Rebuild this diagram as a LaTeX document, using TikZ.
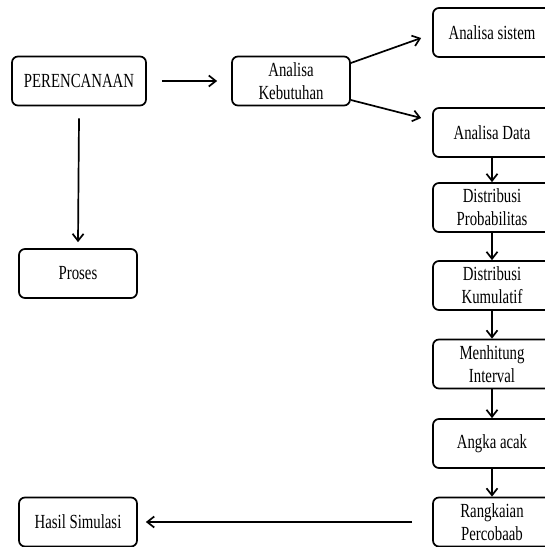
\documentclass[tikz,border=0pt]{standalone}
\usepackage{fontspec}
\setmainfont[FakeStretch=0.74]{Liberation Serif}
\usepackage{tikz}
\usetikzlibrary{shapes}
\usetikzlibrary{positioning,arrows.meta}

\begin{document}
\begin{tikzpicture}[x=1pt,y=-1pt,font=\fontsize{20}{23.3}\selectfont,
    box/.style={draw,line width=1.7pt,rounded corners=6pt,align=center,
      minimum height=49pt,inner sep=0pt},
    kolom/.style={box,minimum width=118pt},
    arr/.style={line width=1.7pt,-{Straight Barb[length=7pt,width=11pt]}}]
        \useasboundingbox (0,0) rectangle (545,547);
        \node[box,minimum width=134pt] (plan) at (79,81) {PERENCANAAN};
        \node[box,minimum width=118pt] (keb) at (291,81) {Analisa\\Kebutuhan};
        \node[box,minimum width=118pt] (proses) at (78,273.5) {Proses};
        \node[box,minimum width=118pt] (hasil) at (78,522) {Hasil Simulasi};
        \node[kolom] (sistem) at (492,32.5) {Analisa sistem};
        \node[kolom] (data) at (492,132.5) {Analisa Data};
        \node[kolom] (prob) at (492,207.5) {Distribusi\\Probabilitas};
        \node[kolom] (kum) at (492,285.5) {Distribusi\\Kumulatif};
        \node[kolom] (interval) at (492,364) {Menhitung\\Interval};
        \node[kolom] (acak) at (492,443.5) {Angka acak};
        \node[kolom] (rangkaian) at (492,522) {Rangkaian\\Percobaab};
        % panah
        \draw[arr] ([xshift=15pt]plan.east) -- ([xshift=-14pt]keb.west);
        \draw[arr] ([yshift=18pt]keb.east) -- ([xshift=-11pt,yshift=-5.5pt]sistem.west);
        \draw[arr] ([yshift=-19pt]keb.east) -- ([xshift=-11pt,yshift=14.5pt]data.west);
        \draw[arr] ([yshift=-12pt]plan.south) -- ([yshift=6pt]proses.north);
        \draw[arr] (data) -- (prob);
        \draw[arr] (prob) -- (kum);
        \draw[arr] (kum) -- (interval);
        \draw[arr] (interval) -- (acak);
        \draw[arr] (acak) -- (rangkaian);
        \draw[arr] ([xshift=-20pt]rangkaian.west) -- ([xshift=8pt]hasil.east);
      \end{tikzpicture}
\end{document}
